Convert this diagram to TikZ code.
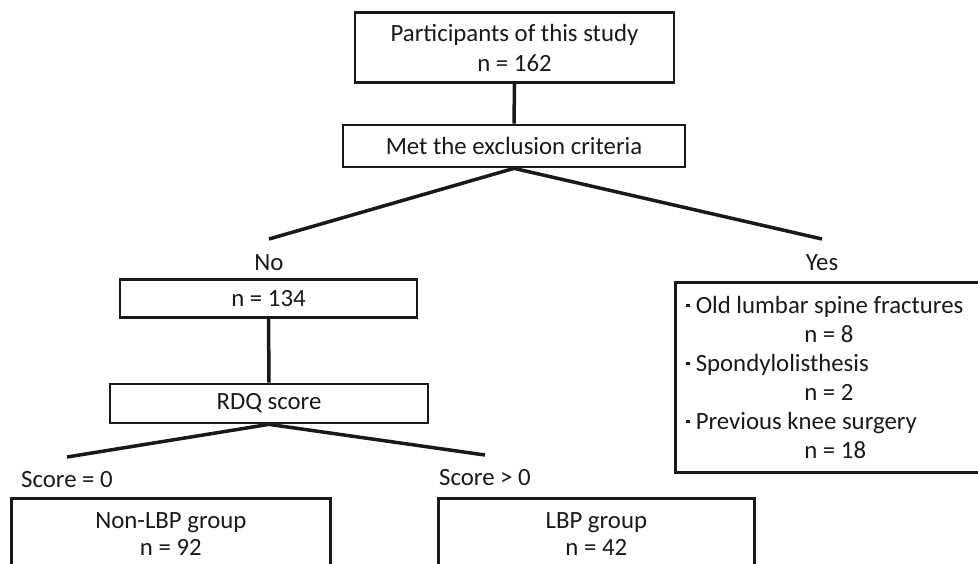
\documentclass[tikz,border=0pt]{standalone}
\usepackage{fontspec}
\setmainfont{Carlito}
\usetikzlibrary{positioning}
\newcommand{\sqdot}{\raisebox{3.2pt}{\rule{1.7pt}{1.7pt}}\hspace{3pt}}

\begin{document}
\begin{tikzpicture}[x=0.5pt, y=-0.5pt,
    every node/.style={font=\fontsize{12.4}{14}\selectfont, text=black!90},
    flowbox/.style={draw=black!90, line width=1.35pt, align=center, inner sep=0pt},
    branch/.style={draw=black!90, line width=1.75pt, line join=round},
    lbl/.style={inner sep=2pt}]
    \useasboundingbox (0,0) rectangle (978,563);
    \clip (0,0) rectangle (978,563);

    % Participants and exclusion check
    \node[flowbox, minimum width=159.5pt, minimum height=35pt, font=\fontsize{12.4}{15}\selectfont] (part) at (514.5,47.5) {Participants of this study\\n = 162};
    \node[flowbox, minimum width=171pt, minimum height=21pt] (excl) at (514,146) {Met the exclusion criteria};
    \draw[branch] (part.south) -- (excl.north);

    % No / Yes split
    \coordinate (noend) at (269,239);
    \coordinate (yesend) at (822,239);
    \draw[branch] (noend) -- (excl.south) -- (yesend);
    \node[lbl, below=5.5pt of noend] (nolbl) {No};
    \node[lbl, below=5.5pt of yesend] (yeslbl) {Yes};

    % Excluded participants
    \node[flowbox, anchor=north west, align=flush left, text width=150pt, inner xsep=5.5pt, minimum height=95pt,
          font=\fontsize{12.4}{14.5}\selectfont] (yesbox) at (674,281)
        {\sqdot Old lumbar spine fractures\\
         \hspace*{59pt}n = 8\\
         \sqdot Spondylolisthesis\\
         \hspace*{59pt}n = 2\\
         \sqdot Previous knee surgery\\
         \hspace*{59pt}n = 18};

    % Remaining participants and RDQ score
    \node[flowbox, minimum width=148.5pt, minimum height=19pt] (remain) at (268.5,298.5) {n = 134};
    \node[flowbox, minimum width=159pt, minimum height=19.5pt] (rdq) at (269,403.5) {RDQ score};
    \draw[branch] (remain.south) -- (rdq.north);

    % Score split
    \coordinate (zeroend) at (67,457);
    \coordinate (posend) at (485,455);
    \draw[branch] (zeroend) -- (rdq.south) -- (posend);
    \node[lbl, below=5pt of zeroend] (zerolbl) {Score = 0};
    \node[lbl, below=5pt of posend] (poslbl) {Score > 0};

    % Groups
    \node[flowbox, anchor=north west, inner xsep=3.5pt, inner ysep=7pt, font=\fontsize{12.4}{13.5}\selectfont] (nonlbp) at (10,497)
        {\parbox[t][45pt][t]{152.5pt}{\centering Non-LBP group\\n = 92}};
    \node[flowbox, anchor=north west, inner xsep=3.5pt, inner ysep=7pt, font=\fontsize{12.4}{13.5}\selectfont] (lbp) at (437,497)
        {\parbox[t][45pt][t]{151pt}{\centering LBP group\\n = 42}};
\end{tikzpicture}
\end{document}
